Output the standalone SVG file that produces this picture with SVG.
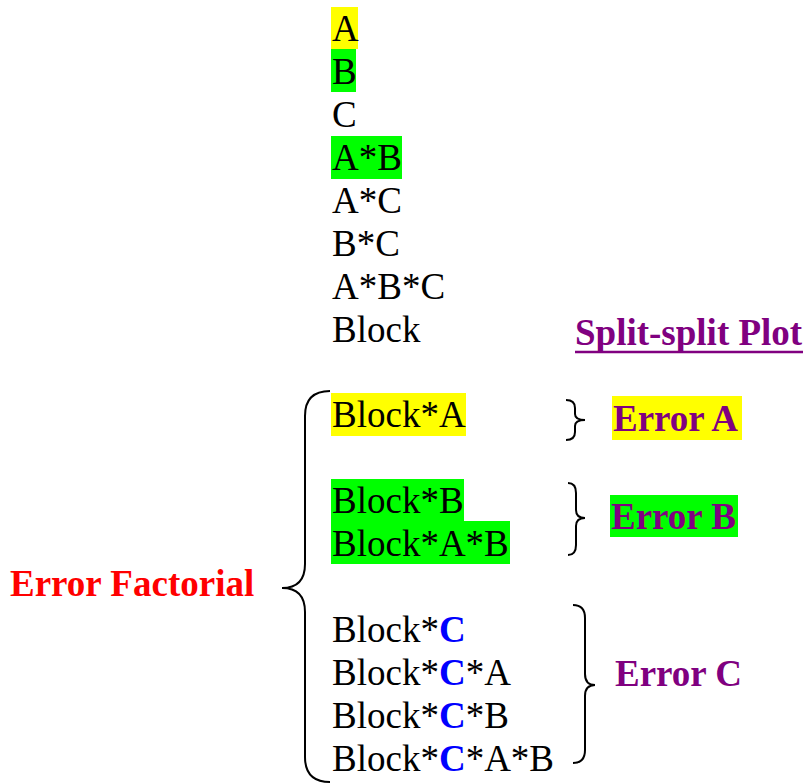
<svg xmlns="http://www.w3.org/2000/svg" width="806" height="784" viewBox="0 0 806 784">
<style>
.t{font-family:"Liberation Serif","Times New Roman",serif;font-size:37px;fill:#000}
.b{font-weight:bold}
.p{fill:#800080}
.blue{fill:#0000FF;font-weight:bold}
.br{fill:none;stroke:#000;stroke-width:2}
.yel{fill:#FFFF00}
.grn{fill:#00FF00}
</style>
<rect width="806" height="784" fill="#fff"/>
<g id="terms">
<rect class="yel" x="331" y="7" width="27" height="42"/>
<rect class="grn" x="331" y="49" width="25" height="43"/>
<rect class="grn" x="331" y="136" width="71" height="43"/>
<text class="t" x="332" y="41">A</text>
<text class="t" x="332" y="84">B</text>
<text class="t" x="332" y="127">C</text>
<text class="t" x="332" y="170">A*B</text>
<text class="t" x="332" y="213">A*C</text>
<text class="t" x="332" y="256">B*C</text>
<text class="t" x="332" y="299">A*B*C</text>
<text class="t" x="332" y="342">Block</text>
</g>
<g id="split-title">
<text class="t b p" x="575" y="345">Split-split Plot</text>
<line x1="575" y1="352" x2="803" y2="352" stroke="#800080" stroke-width="2.5"/>
</g>
<g id="error-terms">
<rect class="yel" x="331" y="393" width="135" height="43"/>
<rect class="grn" x="331" y="479" width="133" height="42"/>
<rect class="grn" x="331" y="521" width="179" height="43"/>
<text class="t" x="332" y="427">Block*A</text>
<text class="t" x="332" y="513">Block*B</text>
<text class="t" x="332" y="556">Block*A*B</text>
<text class="t" x="332" y="642">Block*<tspan class="blue">C</tspan></text>
<text class="t" x="332" y="685">Block*<tspan class="blue">C</tspan>*A</text>
<text class="t" x="332" y="728">Block*<tspan class="blue">C</tspan>*B</text>
<text class="t" x="332" y="771">Block*<tspan class="blue">C</tspan>*A*B</text>
</g>
<g id="error-factorial">
<text class="t b" x="10" y="596" style="fill:#FF0000">Error Factorial</text>
</g>
<g id="error-a">
<rect class="yel" x="612" y="396" width="130" height="44"/>
<text class="t b p" x="613" y="431">Error A</text>
</g>
<g id="error-b">
<rect class="grn" x="610" y="495" width="128" height="42"/>
<text class="t b p" x="611" y="529">Error B</text>
</g>
<g id="error-c">
<text class="t b p" x="615" y="686">Error C</text>
</g>
<g id="braces">
<path class="br" d="M330 391 Q305 391 305 416 L305 564 Q305 588 282 588 Q305 588 305 612 L305 757 Q305 782 330 782"/>
<path class="br" d="M566 400 Q575 400 575 408 L575 414 Q575 420 585 420 Q575 420 575 426 L575 432 Q575 440 566 440"/>
<path class="br" d="M568 483 Q576 483 576 493 L576 510 Q576 518 585 518 Q576 518 576 526 L576 545 Q576 555 568 555"/>
<path class="br" d="M573 605 Q585 605 585 618 L585 674 Q585 685 595 685 Q585 685 585 696 L585 750 Q585 763 573 763"/>
</g>
</svg>
